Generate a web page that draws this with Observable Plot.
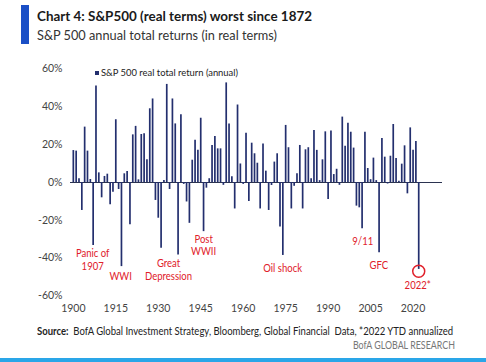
<!DOCTYPE html>
<html>
<head>
<meta charset="utf-8">
<script src="https://cdn.jsdelivr.net/npm/d3@7"></script>
<script src="https://cdn.jsdelivr.net/npm/@observablehq/plot@0.6"></script>
<style>
  html, body { margin: 0; padding: 0; background: #fff; }
  #page { position: relative; width: 486px; height: 362px; overflow: hidden;
          font-family: Lato, "DejaVu Sans Condensed", sans-serif; }
  .bar { position: absolute; left: 21px; top: 5px; width: 8px; height: 39px; background: #1a4fc6; }
  .fit { position: absolute; white-space: nowrap; transform-origin: left center; }
  .title { left: 37px; top: 7px; font-size: 14px; font-weight: bold; color: #1a1a1a; }
  .subtitle { left: 37px; top: 26px; font-size: 14px; color: #333; }
  #chart { position: absolute; left: 0; top: 52px; }
  .sw { position: absolute; left: 95px; top: 71px; width: 4px; height: 4px; background: #232f6e; }
  .legend { left: 101px; top: 66px; font-size: 10px; color: #222; }
  .source { left: 37px; top: 324px; font-size: 11px; color: #222; }
  .brand { right: 31px; top: 339px; font-size: 10.5px; color: #777; transform-origin: right center; }
  .strip { position: absolute; left: 0; top: 358px; width: 486px; height: 4px; background: #2aa6e8; }
</style>
</head>
<body>
<div id="page">
  <div class="bar"></div>
  <div class="fit title" data-w="275">Chart 4: S&amp;P500 (real terms) worst since 1872</div>
  <div class="fit subtitle" data-w="240">S&amp;P 500 annual total returns (in real terms)</div>
  <div id="chart"></div>
  <div class="sw"></div>
  <div class="fit legend" data-w="137">S&amp;P 500 real total return (annual)</div>
  <div class="fit source" data-w="416"><b>Source:</b>&nbsp; BofA Global Investment Strategy, Bloomberg, Global Financial&nbsp; Data, *2022 YTD annualized</div>
  <div class="fit brand" data-w="102">BofA GLOBAL RESEARCH</div>
  <div class="strip"></div>
</div>
<script>
// Years 1900..2022
const firstYear = 1900;
const lastYear = 2022;
// Annual real total returns (%), one per year starting 1900
const realReturns = [
  // 1900s
  16.9, 16.6, 2.0, -14.8, 29.3, 16.6, 1.6, -33.3, 51.0, 5.1,
  // 1910s
  -8.1, 3.2, 4.4, -11.8, -5.1, 33.2, -3.7, -44.5, 4.6, 5.8,
  // 1920s
  -22.4, 25.2, 29.7, 1.4, 25.4, 25.8, 12.0, 39.0, 44.2, -9.5,
  // 1930s
  -18.9, -34.8, 1.0, 51.9, -3.7, 44.2, 31.0, -38.3, 35.8, -1.0,
  // 1940s
  -10.3, -21.6, 11.8, 22.4, 17.1, 34.0, -26.0, -3.0, 2.0, 19.6,
  // 1950s
  24.3, 17.8, 17.8, -1.5, 52.7, 31.0, 3.0, -14.0, 41.0, 9.8,
  // 1960s
  -1.0, 26.0, -10.0, 20.8, 15.2, 10.2, -14.0, 20.4, 6.0, -14.8,
  // 1970s
  -1.6, 10.8, 15.2, -23.6, -38.6, 30.2, 18.4, -14.0, -2.0, 4.6,
  // 1980s
  19.6, -14.0, 17.3, 18.4, 2.0, 27.5, 17.0, 1.0, 12.0, 26.8,
  // 1990s
  -9.0, 27.2, 4.2, 7.0, -1.5, 34.6, 19.2, 31.4, 26.6, 18.2,
  // 2000s
  -12.5, -13.4, -24.5, 26.6, 7.4, 1.5, 12.9, 1.0, -37.2, 23.3,
  // 2010s
  13.4, -0.8, 13.9, 30.7, 12.7, 0.7, 9.7, 19.4, -6.0, 28.9,
  // 2020s
  17.0, 21.7, -46.0
];
const xTicks = [1900, 1915, 1930, 1945, 1960, 1975, 1990, 2005, 2020];
const yTicks = [-60, -40, -20, 0, 20, 40, 60];

// Event annotations (label, anchor year, anchor value)
const eventLabels = ["Panic of\n1907", "WWI", "Great\nDepression", "Post\nWWII", "Oil shock", "9/11", "GFC", "2022*"];
const eventYears  = [1906.8, 1916.7, 1933.6, 1946.0, 1973.9, 2002.2, 2007.9, 2021.6];
const eventValues = [-40.7, -49.2, -46.0, -33.1, -45.0, -30.7, -43.4, -54.0];
const highlightYear = 2022;
const highlightValue = -47;

const years = d3.range(firstYear, lastYear + 1);
const data = years.map((y, i) => ({year: y, value: realReturns[i]}));
const events = eventLabels.map((l, i) => ({label: l, year: eventYears[i], value: eventValues[i]}));

const navy = "#232f6e";
const red = "#e0202a";

const chart = Plot.plot({
  width: 486,
  height: 266,
  marginLeft: 70,
  marginRight: 44,
  marginTop: 16.6,
  marginBottom: 22.6,
  style: {fontFamily: 'Lato, "DejaVu Sans Condensed", sans-serif', fontSize: "10px", color: "#333", background: "transparent"},
  x: {domain: [1899, 2030.4], axis: null},
  y: {domain: [-60, 60], axis: null},
  marks: [
    Plot.axisY({ticks: yTicks, tickFormat: d => d + "%", tickSize: 0, tickPadding: 8, fontSize: 10.5, fill: "#444", label: null}),
    Plot.axisX({ticks: xTicks, tickFormat: d => String(d), tickSize: 0, tickPadding: 9, fontSize: 10.5, fill: "#444", label: null}),
    Plot.ruleY([0], {stroke: "#2b3350", strokeWidth: 1}),
    Plot.ruleX(data, {x: "year", y1: 0, y2: "value", stroke: navy, strokeWidth: 1.7}),
    Plot.text(events, {x: "year", y: "value", text: "label", fill: red, fontSize: 11.5, lineHeight: 1.1}),
    Plot.dot([{year: highlightYear, value: highlightValue}], {x: "year", y: "value", r: 6, stroke: red, strokeWidth: 1.5, fill: "none"})
  ]
});
document.getElementById("chart").appendChild(chart);

// Condense text horizontally to mimic the narrow typeface of the original
document.querySelectorAll(".fit").forEach(el => {
  const target = +el.dataset.w;
  const w = el.getBoundingClientRect().width;
  if (w > 0) el.style.transform = `scaleX(${target / w})`;
});
const svgRect = chart.getBoundingClientRect();
chart.querySelectorAll("text").forEach(t => {
  const g = t.closest("g[fill]");
  const f = (t.getAttribute("fill") || (g && g.getAttribute("fill")) || "").toLowerCase();
  if (f !== red) return;
  const r = t.getBoundingClientRect();
  const cx = r.left + r.width / 2 - svgRect.left;
  const existing = t.getAttribute("transform") || "";
  t.setAttribute("transform", `translate(${cx},0) scale(0.83,1) translate(${-cx},0) ${existing}`);
});
</script>
</body>
</html>
